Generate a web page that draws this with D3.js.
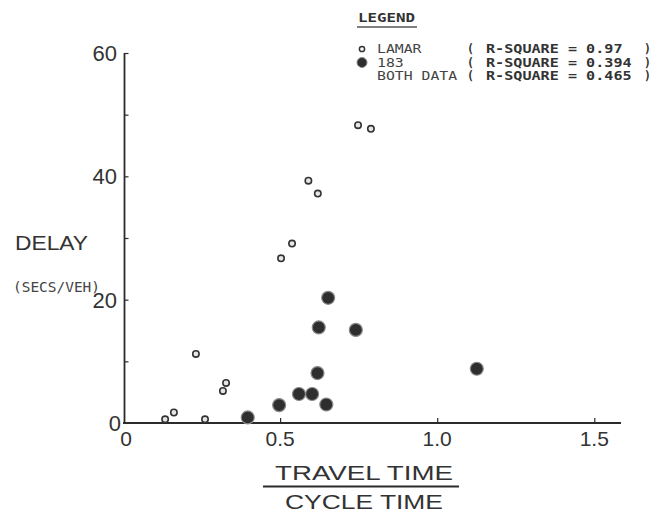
<!DOCTYPE html>
<html>
<head>
<meta charset="utf-8">
<script src="https://cdn.jsdelivr.net/npm/d3@7"></script>
<style>
  html, body { margin: 0; padding: 0; background: #ffffff; }
  svg { display: block; }
</style>
</head>
<body>
<svg id="chart" width="661" height="512"></svg>
<script>
// ---- data ----
const lamarX = [0.590, 0.620, 0.538, 0.503, 0.232, 0.328, 0.318, 0.162, 0.134, 0.261, 0.789, 0.748];
const lamarY = [39.3, 37.2, 29.1, 26.7, 11.2, 6.5, 5.2, 1.7, 0.6, 0.6, 47.7, 48.3];
const r183X = [0.397, 0.497, 0.560, 0.602, 0.647, 0.619, 0.623, 0.653, 0.741, 1.126];
const r183Y = [0.9, 2.9, 4.7, 4.7, 3.0, 8.1, 15.5, 20.3, 15.1, 8.8];
const xTickValues = [0, 0.5, 1.0, 1.5];
const xTickLabels = ["0", "0.5", "1.0", "1.5"];
const yMajorTicks = [0, 20, 40, 60];
const yMinorTicks = [10, 30, 50];
const legendNames = ["LAMAR", "183", "BOTH DATA"];
const legendRSquare = ["0.97", "0.394", "0.465"];

// ---- layout ----
const svg = d3.select("#chart");
const x = d3.scaleLinear().domain([0, 1.585]).range([123, 621]);
const y = d3.scaleLinear().domain([0, 60]).range([423, 53]);
const ink = "#2b2b2b";
const sans = "'Liberation Sans', Arial, sans-serif";
const mono = "'DejaVu Sans Mono', 'Liberation Mono', monospace";

// x axis (ticks point up, inside)
const xAxis = d3.axisBottom(x).tickValues(xTickValues.slice(1)).tickSize(-5).tickFormat("");
const gx = svg.append("g").attr("transform", `translate(0,${y(0)})`).call(xAxis);
gx.select(".domain").attr("stroke", ink).attr("stroke-width", 1.8).attr("d", `M${x(0)},0H${x(1.585)}`);
gx.selectAll(".tick line").attr("stroke", ink).attr("stroke-width", 1.2);

svg.append("g").selectAll("text").data(xTickValues).join("text")
  .attr("x", (d, i) => x(d) + (i === 0 ? 3 : 0))
  .attr("y", y(0) + 23)
  .attr("text-anchor", "middle")
  .attr("font-family", sans).attr("font-size", 21).attr("fill", "#333")
  .text((d, i) => xTickLabels[i]);

// y axis (ticks point right, inside)
const yAxis = d3.axisLeft(y).tickValues(yMajorTicks.concat(yMinorTicks).filter(d => d > 0)).tickSize(-4).tickFormat("");
const gy = svg.append("g").attr("transform", `translate(${x(0) + 1.5},0)`).call(yAxis);
gy.select(".domain").attr("stroke", ink).attr("stroke-width", 1.8).attr("d", `M0,${y(0)}V${y(60)}`);
gy.selectAll(".tick line").attr("stroke", ink).attr("stroke-width", 1.2);

svg.append("g").selectAll("text").data(yMajorTicks).join("text")
  .attr("x", d => d === 0 ? 121 : 117)
  .attr("y", d => y(d) + 8)
  .attr("text-anchor", "end")
  .attr("font-family", sans).attr("font-size", 22).attr("fill", "#333")
  .text(d => d);

// axis titles
svg.append("text").attr("x", 15).attr("y", 250)
  .attr("font-family", sans).attr("font-size", 21).attr("fill", "#333")
  .attr("textLength", 73).attr("lengthAdjust", "spacingAndGlyphs").text("DELAY");
svg.append("text").attr("x", 13).attr("y", 292)
  .attr("font-family", mono).attr("font-size", 14).attr("fill", "#444")
  .attr("textLength", 87).attr("lengthAdjust", "spacingAndGlyphs").text("(SECS/VEH)");

svg.append("text").attr("x", 364).attr("y", 480).attr("text-anchor", "middle")
  .attr("font-family", sans).attr("font-size", 20).attr("fill", "#333")
  .attr("textLength", 178).attr("lengthAdjust", "spacingAndGlyphs").text("TRAVEL TIME");
svg.append("line").attr("x1", 263).attr("x2", 459).attr("y1", 486.5).attr("y2", 486.5)
  .attr("stroke", ink).attr("stroke-width", 1.8);
svg.append("text").attr("x", 364).attr("y", 509).attr("text-anchor", "middle")
  .attr("font-family", sans).attr("font-size", 20).attr("fill", "#333")
  .attr("textLength", 158).attr("lengthAdjust", "spacingAndGlyphs").text("CYCLE TIME");

// points: 183 (filled)
const d183 = r183X.map((v, i) => ({ x: v, y: r183Y[i] }));
svg.append("g").selectAll("circle").data(d183).join("circle")
  .attr("cx", d => x(d.x)).attr("cy", d => y(d.y)).attr("r", 6.5)
  .attr("fill", "#2e2e2e").attr("stroke", "#8a8a8a").attr("stroke-width", 1.2);

// points: LAMAR (open)
const dLamar = lamarX.map((v, i) => ({ x: v, y: lamarY[i] }));
svg.append("g").selectAll("circle").data(dLamar).join("circle")
  .attr("cx", d => x(d.x)).attr("cy", d => y(d.y)).attr("r", 3.2)
  .attr("fill", "#e6e6e6").attr("stroke", "#333").attr("stroke-width", 1.6);

// legend
const lg = svg.append("g");
lg.append("text").attr("x", 358).attr("y", 22)
  .attr("font-family", mono).attr("font-weight", "bold").attr("font-size", 13).attr("fill", "#333")
  .attr("textLength", 57).attr("lengthAdjust", "spacingAndGlyphs").text("LEGEND");
lg.append("line").attr("x1", 357).attr("x2", 417).attr("y1", 27).attr("y2", 27)
  .attr("stroke", "#555").attr("stroke-width", 1.6);

const rowY = [53, 66.5, 80];
const fs = 11.5;
lg.append("circle").attr("cx", 362).attr("cy", rowY[0] - 4).attr("r", 2.6)
  .attr("fill", "#fff").attr("stroke", "#333").attr("stroke-width", 1.5);
lg.append("circle").attr("cx", 362).attr("cy", rowY[1] - 4).attr("r", 5)
  .attr("fill", "#2e2e2e").attr("stroke", "#888").attr("stroke-width", 1);

lg.selectAll("text.name").data(legendNames).join("text").attr("class", "name")
  .attr("x", 377).attr("y", (d, i) => rowY[i])
  .attr("font-family", mono).attr("font-size", fs).attr("fill", "#444")
  .attr("textLength", d => d.length * 8.9).attr("lengthAdjust", "spacingAndGlyphs")
  .text(d => d);
lg.selectAll("text.open").data(legendRSquare).join("text").attr("class", "open")
  .attr("x", 467).attr("y", (d, i) => rowY[i])
  .attr("font-family", mono).attr("font-weight", "bold").attr("font-size", fs).attr("fill", "#333")
  .text("(");
lg.selectAll("text.rs").data(legendRSquare).join("text").attr("class", "rs")
  .attr("x", 486).attr("y", (d, i) => rowY[i])
  .attr("font-family", mono).attr("font-weight", "bold").attr("font-size", fs).attr("fill", "#333")
  .attr("textLength", d => ("R-SQUARE = " + d).length * 9.1).attr("lengthAdjust", "spacingAndGlyphs")
  .text(d => "R-SQUARE = " + d);
lg.selectAll("text.close").data(legendRSquare).join("text").attr("class", "close")
  .attr("x", 644).attr("y", (d, i) => rowY[i])
  .attr("font-family", mono).attr("font-weight", "bold").attr("font-size", fs).attr("fill", "#333")
  .text(")");
</script>
</body>
</html>
